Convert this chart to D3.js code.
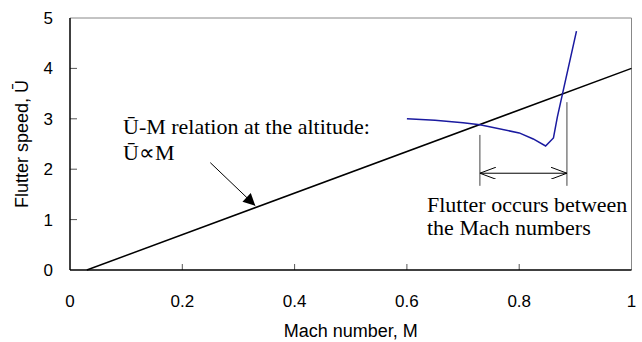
<!DOCTYPE html>
<html>
<head>
<meta charset="utf-8">
<script src="https://cdn.jsdelivr.net/npm/d3@7/dist/d3.min.js"></script>
<style>
  body { margin: 0; background: #fff; }
  svg { display: block; }
  .tick-label { font-family: 'Liberation Sans', Arial, sans-serif; font-size: 17px; fill: #000; }
  .axis-title { font-family: 'Liberation Sans', Arial, sans-serif; font-size: 18px; fill: #000; }
  .note { font-family: 'Liberation Serif', 'Times New Roman', serif; font-size: 22px; fill: #000; }
</style>
</head>
<body>
<svg width="642" height="342"></svg>
<script>
// ticks
const xTicks = [0, 0.2, 0.4, 0.6, 0.8, 1];
const xTickLabels = ['0', '0.2', '0.4', '0.6', '0.8', '1'];
const yTicks = [0, 1, 2, 3, 4, 5];

// U-M relation at the altitude (straight line)
const relM = [0.03, 1];
const relU = [0, 4];

// flutter boundary curve
const flutterM = [0.6, 0.65, 0.7, 0.73, 0.8, 0.825, 0.847, 0.861, 0.868, 0.877, 0.902];
const flutterU = [3.0, 2.97, 2.92, 2.88, 2.72, 2.6, 2.46, 2.62, 3.04, 3.49, 4.74];

// flutter range markers
const rangeM = [0.73, 0.885];
const rangeTopU = [2.68, 3.33];
const rangeBottomU = 1.67;
const rangeArrowU = 1.92;

const svg = d3.select('svg');
const margin = { left: 70, top: 18, right: 10, bottom: 72 };
const width = +svg.attr('width');
const height = +svg.attr('height');

const x = d3.scaleLinear().domain([0, 1]).range([margin.left, width - margin.right - 0.5]);
const y = d3.scaleLinear().domain([0, 5]).range([height - margin.bottom, margin.top]);

// frame: top and right in grey
svg.append('line')
  .attr('x1', x(0)).attr('x2', x(1))
  .attr('y1', y(5)).attr('y2', y(5))
  .attr('stroke', '#888').attr('stroke-width', 1);
svg.append('line')
  .attr('x1', x(1)).attr('x2', x(1))
  .attr('y1', y(5)).attr('y2', y(0))
  .attr('stroke', '#888').attr('stroke-width', 1);

// x ticks (inside)
svg.append('g')
  .selectAll('line')
  .data(xTicks.slice(1, -1))
  .enter()
  .append('line')
  .attr('x1', d => x(d)).attr('x2', d => x(d))
  .attr('y1', y(0)).attr('y2', y(0) - 6)
  .attr('stroke', '#555');

// y ticks (inside)
svg.append('g')
  .selectAll('line')
  .data(yTicks.slice(1, -1))
  .enter()
  .append('line')
  .attr('x1', x(0)).attr('x2', x(0) + 7)
  .attr('y1', d => y(d)).attr('y2', d => y(d))
  .attr('stroke', '#555');

// axes
svg.append('line')
  .attr('x1', x(0)).attr('x2', x(1))
  .attr('y1', y(0)).attr('y2', y(0))
  .attr('stroke', '#000').attr('stroke-width', 1.5);
svg.append('line')
  .attr('x1', x(0)).attr('x2', x(0))
  .attr('y1', y(0)).attr('y2', y(5))
  .attr('stroke', '#000').attr('stroke-width', 1.5);

// tick labels
svg.append('g')
  .selectAll('text')
  .data(xTicks)
  .enter()
  .append('text')
  .attr('class', 'tick-label')
  .attr('x', d => x(d))
  .attr('y', y(0) + 37)
  .attr('text-anchor', 'middle')
  .text((d, i) => xTickLabels[i]);

svg.append('g')
  .selectAll('text')
  .data(yTicks)
  .enter()
  .append('text')
  .attr('class', 'tick-label')
  .attr('x', x(0) - 17)
  .attr('y', d => y(d) + 6)
  .attr('text-anchor', 'end')
  .text(d => d);

// axis titles
svg.append('text')
  .attr('class', 'axis-title')
  .attr('x', (x(0) + x(1)) / 2)
  .attr('y', height - 5)
  .attr('text-anchor', 'middle')
  .text('Mach number, M');

svg.append('text')
  .attr('class', 'axis-title')
  .attr('transform', `translate(28,${(y(0) + y(5)) / 2}) rotate(-90)`)
  .attr('text-anchor', 'middle')
  .text('Flutter speed, Ū');

// defs for arrowheads
const defs = svg.append('defs');
defs.append('marker')
  .attr('id', 'solid-head')
  .attr('viewBox', '0 0 10 10')
  .attr('refX', 10).attr('refY', 5)
  .attr('markerUnits', 'userSpaceOnUse')
  .attr('markerWidth', 14).attr('markerHeight', 12)
  .attr('orient', 'auto')
  .append('path')
  .attr('d', 'M0,0 L10,5 L0,10 Z')
  .attr('fill', '#000');
defs.append('marker')
  .attr('id', 'open-head')
  .attr('viewBox', '0 0 16 12')
  .attr('refX', 16).attr('refY', 6)
  .attr('markerUnits', 'userSpaceOnUse')
  .attr('markerWidth', 16).attr('markerHeight', 12)
  .attr('orient', 'auto-start-reverse')
  .append('path')
  .attr('d', 'M0,0 L16,6 L0,12')
  .attr('fill', 'none')
  .attr('stroke', '#000')
  .attr('stroke-width', 1);

// relation line
const line = d3.line().x(d => x(d[0])).y(d => y(d[1]));
svg.append('path')
  .datum(relM.map((m, i) => [m, relU[i]]))
  .attr('d', line)
  .attr('fill', 'none')
  .attr('stroke', '#000')
  .attr('stroke-width', 1.5);

// flutter curve
svg.append('path')
  .datum(flutterM.map((m, i) => [m, flutterU[i]]))
  .attr('d', line)
  .attr('fill', 'none')
  .attr('stroke', '#1a1aa0')
  .attr('stroke-width', 1.5);

// range markers
svg.append('g')
  .selectAll('line')
  .data(rangeM)
  .enter()
  .append('line')
  .attr('x1', d => x(d)).attr('x2', d => x(d))
  .attr('y1', (d, i) => y(rangeTopU[i]))
  .attr('y2', y(rangeBottomU))
  .attr('stroke', '#444')
  .attr('stroke-width', 1);

svg.append('line')
  .attr('x1', x(rangeM[0])).attr('x2', x(rangeM[1]))
  .attr('y1', y(rangeArrowU)).attr('y2', y(rangeArrowU))
  .attr('stroke', '#000')
  .attr('stroke-width', 1)
  .attr('marker-start', 'url(#open-head)')
  .attr('marker-end', 'url(#open-head)');

// annotation: relation
const relNoteM = 0.33;
const relNoteU = relU[1] * (relNoteM - relM[0]) / (relM[1] - relM[0]);
svg.append('line')
  .attr('x1', x(relNoteM) - 45).attr('y1', y(relNoteU) - 45)
  .attr('x2', x(relNoteM)).attr('y2', y(relNoteU) - 2)
  .attr('stroke', '#000')
  .attr('stroke-width', 1)
  .attr('marker-end', 'url(#solid-head)');

svg.append('text').attr('class', 'note')
  .attr('x', 123).attr('y', 134)
  .text('Ū-M relation at the altitude:');
svg.append('text').attr('class', 'note')
  .attr('x', 123).attr('y', 160)
  .text('Ū∝M');

svg.append('text').attr('class', 'note')
  .attr('x', 427).attr('y', 212)
  .text('Flutter occurs between');
svg.append('text').attr('class', 'note')
  .attr('x', 427).attr('y', 235)
  .text('the Mach numbers');
</script>
</body>
</html>
